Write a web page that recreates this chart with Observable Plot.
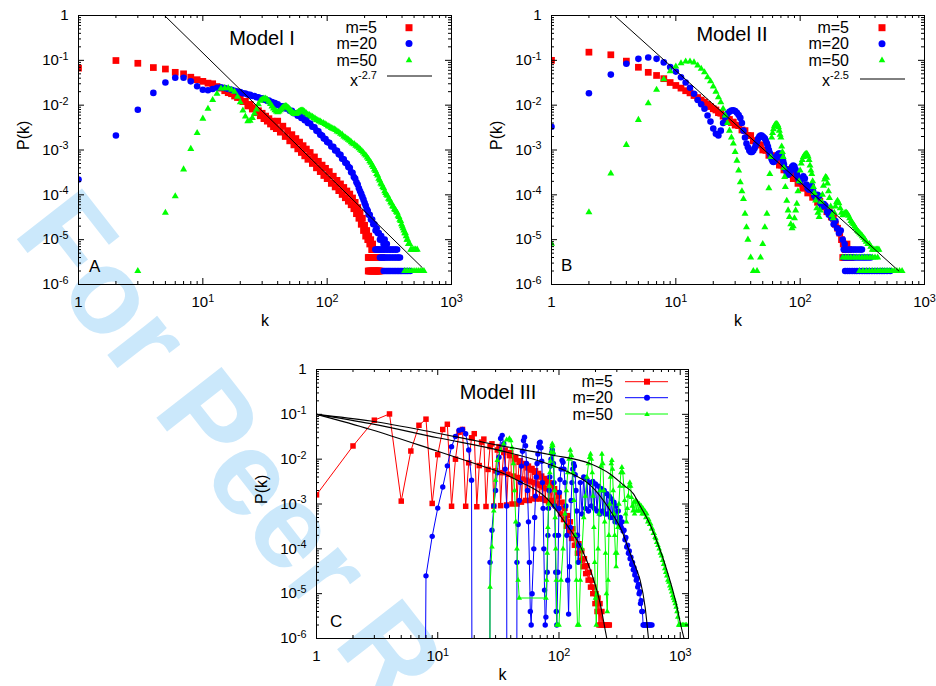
<!DOCTYPE html>
<html><head><meta charset="utf-8">
<script src="https://cdn.jsdelivr.net/npm/d3@7"></script>
<script src="https://cdn.jsdelivr.net/npm/@observablehq/plot@0.6"></script>
<style>
html,body{margin:0;padding:0;background:#fff;}
#wrap{position:relative;width:936px;height:686px;overflow:hidden;font-family:"Liberation Sans",Arial,Helvetica,sans-serif;}
#wrap svg{position:absolute;}
</style></head><body><div id="wrap"></div>
<script>
// ---------------- DATA ----------------
const kDecades = [1, 10, 100, 1000];
const pDecades = [1e-6, 1e-5, 1e-4, 1e-3, 1e-2, 1e-1, 1];
const minorFactors = [2, 3, 4, 5, 6, 7, 8, 9];
const seriesLabels = ["m=5", "m=20", "m=50"];
const panelTitles = ["Model I", "Model II", "Model III"];
const panelLetters = ["A", "B", "C"];
const fitLabels = ["-2.7", "-2.5"];

// Panel A (Model I)
const aRed = [[1,.067],[2,.099],[3,.086],[4,.069],[5,.064],[6,.054],[7,.050],[8,.042],[9,.037],[10,.034],[11,.031],[12,.030],[13,.026],[14,.024],[15,.021],[16,.019],[17,.018],[18,.016],[19,.0148],[20,.015],[21,.012],[22,.0122],[23,.0096],[24,.0104],[25,.0082],[26,.0088],[27,.0068],[28,.0075],[29,.0058],[30,.0066],[31,.0050],[32,.0057],[33,.0044],[34,.0050],[35,.0038],[36,.0044],[37,.0033],[38,.0039],[39,.0030],[40,.0044],[42,.0025],[44,.0034],[46,.0020],[48,.0027],[50,.0016],[52,.0022],[54,.0013],[56,.0018],[58,.00106],[60,.0015],[62,.00088],[64,.00125],[66,.00074],[68,.00105],[70,.00062],[73,.00088],[76,.0005],[79,.0007],[82,.0004],[85,.00056],[88,.00033],[91,.00046],[94,.00027],[97,.00039],[100,.00023],[104,.00033],[108,.00018],[112,.00026],[116,.00015],[120,.00021],[124,.000124],[128,.000175],[132,.000102],[136,.000146],[140,.000086],[144,.000122],[148,.000072],[152,.000104],[156,.00006],[160,.000085],[164,.000049],[168,.000068],[172,.000038],[176,.000052],[180,.00003],[184,.00004],[188,.000022],[192,.00003],[196,.000016],[200,.000021],[204,.000012],[208,.000016],[212,.00001],[216,.000012],[220,.000008],[224,.00001],[228,.000006],[232,.000008],[236,.000006],[240,.000006],[246,.000006],
[214,.000004],[218,.000004],[222,.000004],[226,.000004],[230,.000004],[234,.000004],[238,.000004],[242,.000004],[246,.000004],[250,.000004],[255,.000004],[260,.000004],[265,.000004],[270,.000004],[276,.000004],
[214,.000002],[218,.000002],[222,.000002],[226,.000002],[230,.000002],[234,.000002],[238,.000002],[242,.000002],[246,.000002],[250,.000002],[254,.000002],[258,.000002],[262,.000002],[266,.000002]];
const aBlue = [[1,.00022],[2,.0021],[3,.0079],[4,.0188],[5,.032],[6,.041],[7,.041],[8,.034],[9,.0265],[10,.022],[11,.0215],[12,.023],[13,.0245],[14,.025],[15,.024],[16,.023],[17,.022],[18,.021],[19,.020],[20,.0195],[21,.0185],[22,.0182],[23,.0172],[24,.0170],[25,.0160],[26,.0160],[27,.0150],[28,.0150],[29,.0140],[30,.0142],[31,.0132],[32,.0134],[33,.0124],[34,.0126],[35,.0116],[36,.0118],[37,.0109],[38,.0111],[39,.0102],[40,.0104],[42,.0094],[44,.0094],[46,.0084],[48,.0084],[50,.0075],[52,.0075],[54,.0066],[56,.0066],[58,.0058],[60,.0060],[62,.0052],[64,.0053],[66,.0046],[68,.0047],[70,.0040],[73,.0039],[76,.0033],[79,.0032],[82,.0027],[85,.0026],[88,.0022],[91,.0021],[94,.0018],[97,.00175],[100,.0015],[104,.00145],[108,.00120],[112,.00118],[116,.00098],[120,.00096],[124,.00080],[128,.00078],[132,.00064],[136,.00062],[140,.00052],[144,.00050],[148,.00042],[152,.00040],[156,.00032],[160,.00031],[164,.00025],[168,.00023],[172,.00019],[176,.00017],[180,.00014],[184,.00012],[188,.000105],[192,.000090],[196,.000078],[200,.000066],[204,.000058],[208,.000048],[212,.000044],[216,.000036],[220,.000036],[225,.000028],[230,.000028],[235,.000022],[240,.000022],[245,.000016],[250,.000018],[255,.000014],[260,.000014],[266,.000010],[272,.000012],[278,.000010],[284,.000008],[290,.000010],[296,.000008],[302,.000008],
[244,.000006],[250,.000006],[256,.000006],[262,.000006],[268,.000006],[275,.000006],[282,.000006],[290,.000006],[298,.000006],[306,.000006],[315,.000006],[324,.000006],[334,.000006],[344,.000006],[355,.000006],[365,.000006],
[266,.000004],[272,.000004],[278,.000004],[285,.000004],[292,.000004],[300,.000004],[308,.000004],[316,.000004],[325,.000004],[335,.000004],[345,.000004],[355,.000004],[366,.000004],[376,.000004],[385,.000004],
[285,.000002],[292,.000002],[300,.000002],[308,.000002],[316,.000002],[325,.000002],[335,.000002],[345,.000002],[355,.000002],[366,.000002],[376,.000002],[388,.000002],[400,.000002],[415,.000002],[430,.000002],[446,.000002],[465,.000002]];
const aGreen = [[3,.000002],[5,.00004],[6,.000093],[7,.00037],[8,.00106],[9,.0024],[10,.005],[11,.0083],[12,.013],[13,.018],[14,.0235],[15,.024],[16,.024],[17,.022],[18,.020],[19,.0155],[20,.0116],[21,.0076],[22,.0056],[23,.0044],[24,.0045],[25,.0052],[26,.0065],[27,.0080],[28,.0105],[29,.0125],[30,.0135],[31,.0140],[32,.0140],[33,.0132],[34,.0120],[35,.0106],[36,.0094],[37,.0084],[38,.0077],[39,.0072],[40,.0070],[41,.0072],[42,.0077],[43,.0083],[44,.0089],[45,.0093],[46,.0095],[47,.0094],[48,.0090],[49,.0086],[50,.0080],[51,.0075],[52,.0071],[53,.0067],[54,.0065],[55,.0064],[56,.0064],[57,.0066],[58,.0068],[59,.0071],[60,.0073],[61,.0075],[62,.0076],[63,.0076],[64,.0075],[65,.0073],[66,.0070],[68,.0066],[70,.0062],[72,.0060],[74,.0057],[76,.0055],[78,.0052],[80,.0050],[82,.0047],[84,.0046],[86,.0044],[88,.0043],[90,.0041],[93,.0040],[96,.0038],[99,.0036],[102,.0034],[105,.0033],[108,.0031],[111,.0030],[114,.0029],[117,.0028],[120,.0026],[124,.0025],[128,.0023],[132,.0022],[136,.0020],[140,.0019],[144,.0018],[148,.0017],[152,.0016],[156,.0015],[160,.0014],[165,.00135],[170,.00125],[175,.00118],[180,.0011],[185,.00102],[190,.00095],[195,.00088],[200,.0008],[205,.00075],[210,.00068],[215,.00063],[220,.00056],[225,.00052],[230,.00046],[235,.00042],[240,.00037],[245,.00034],[250,.00029],[255,.00027],[260,.00023],[265,.00021],[270,.00018],[275,.00017],[280,.00015],[285,.00014],[290,.00012],[295,.00011],[300,.0001],[306,.000095],[312,.000082],[318,.000078],[324,.000068],[330,.000064],[336,.000056],[342,.000054],[348,.000048],[354,.000046],[360,.000042],[366,.000040],[372,.000034],[378,.000032],[384,.000028],[390,.000026],[396,.000022],[402,.000020],[408,.000018],[414,.000016],[420,.000014],[426,.000014],[432,.000012],[438,.000010],[444,.000010],[450,.000008],[456,.000008],[462,.000008],[470,.000006],[480,.000006],[490,.000006],[500,.000006],[515,.000006],[530,.000006],
[420,.000002],[440,.000002],[460,.000002],[480,.000002],[500,.000002],[520,.000002],[540,.000002],[560,.000002],[580,.000002],[600,.000002]];
const aFit = [[4.92, 1], [580, 0.0000024]];

// Panel B (Model II)
const bRed = [[1,.10],[2,.152],[3,.133],[4,.096],[5,.070],[6,.054],[7,.046],[8,.039],[9,.032],[10,.0275],[11,.024],[12,.021],[13,.0188],[14,.0164],[15,.0148],[16,.013],[17,.0117],[18,.0104],[19,.0093],[20,.0083],[21,.0078],[22,.0068],[23,.0066],[24,.0057],[25,.0056],[26,.0048],[27,.0048],[28,.0041],[29,.0042],[30,.0036],[32,.0035],[34,.0028],[36,.0027],[38,.0021],[40,.0021],[42,.0016],[44,.0016],[46,.0013],[48,.0013],[50,.00100],[53,.00098],[56,.00076],[59,.00075],[62,.00059],[65,.00058],[68,.00046],[71,.00046],[74,.00036],[77,.00037],[80,.00029],[84,.00029],[88,.00023],[92,.00023],[96,.00018],[100,.00019],[105,.00014],[110,.00015],[115,.00011],[120,.00012],[126,.000088],[132,.000092],[138,.000068],[144,.000072],[150,.000054],[157,.000056],[164,.000042],[171,.000042],[178,.000032],[185,.000030],[192,.000022],[200,.000018],[208,.000014],[215,.000010],[222,.000008],[230,.000006],[238,.000008],[246,.000006],
[220,.000004],[226,.000004],[232,.000004],[238,.000004],[244,.000004],[250,.000004],[256,.000004]];
const bBlue = [[1,.0033],[2,.0185],[3,.048],[4,.084],[5,.108],[6,.116],[7,.108],[8,.090],[9,.071],[10,.056],[11,.042],[12,.032],[13,.0244],[14,.018],[15,.013],[16,.0105],[17,.0083],[18,.0059],[19,.0043],[20,.0030],[21,.0023],[22,.0021],[23,.0027],[24,.0040],[25,.0054],[26,.0064],[27,.0071],[28,.0076],[29,.0077],[30,.0074],[31,.0068],[32,.0060],[33,.0052],[34,.0040],[35,.0027],[36,.0019],[37,.0014],[38,.00115],[39,.00098],[40,.00090],[41,.00090],[42,.00098],[43,.0011],[44,.0013],[45,.0015],[46,.0018],[47,.0020],[48,.0021],[49,.0021],[50,.0020],[51,.0019],[52,.0018],[53,.0016],[54,.0014],[55,.0012],[56,.0010],[57,.00085],[58,.00072],[59,.00062],[60,.00056],[61,.00054],[62,.00056],[63,.00060],[64,.00066],[65,.00072],[66,.00078],[67,.00082],[68,.00083],[69,.00082],[70,.00078],[71,.00072],[72,.00064],[73,.00056],[74,.00048],[76,.00038],[78,.00031],[80,.00028],[82,.00030],[84,.00036],[86,.00042],[88,.00045],[90,.00043],[92,.00036],[94,.00029],[96,.00024],[98,.00021],[100,.00020],[103,.00023],[106,.00026],[109,.00023],[112,.00017],[115,.00014],[118,.00013],[121,.00015],[124,.00016],[127,.00012],[130,.000095],[134,.000085],[138,.00010],[142,.000092],[146,.000065],[150,.000055],[155,.000062],[160,.000056],[165,.000042],[170,.000036],[175,.000040],[180,.000030],[186,.000022],[192,.000026],[198,.000018],[205,.000014],[212,.000016],[220,.000010],[228,.000008],
[224,.000006],[232,.000006],[240,.000006],[250,.000006],[260,.000006],[270,.000006],[280,.000006],[292,.000006],[304,.000006],[314,.000006],
[224,.000004],[232,.000004],[240,.000004],[250,.000004],[260,.000004],[270,.000004],[280,.000004],[292,.000004],[304,.000004],[316,.000004],[328,.000004],[340,.000004],[354,.000004],[369,.000004],
[230,.000002],[240,.000002],[250,.000002],[262,.000002],[274,.000002],[286,.000002],[300,.000002],[315,.000002],[330,.000002],[345,.000002],[360,.000002],[378,.000002],[396,.000002],[415,.000002],[435,.000002],[455,.000002],[475,.000002],[500,.000002],[530,.000002]];
const bGreen = [[1,.0000081],[2,.000041],[3,.0003],[4,.0013],[5,.0047],[6,.011],[7,.022],[8,.038],[9,.057],[10,.073],[11,.086],[12,.094],[13,.094],[14,.090],[15,.077],[16,.065],[17,.054],[18,.042],[19,.034],[20,.026],[21,.020],[22,.015],[23,.0116],[24,.0083],[25,.0059],[26,.0040],[27,.0027],[28,.0019],[29,.0014],[30,.0009],[31,.00058],[32,.00035],[33,.00019],[34,.00012],[35,.000081],[36,.000038],[37,.000019],[38,.00001],[40,.000004],[42,.000002],[45,.000002],[48,.000004],[50,.000008],[52,.000019],[54,.000038],[56,.00014],[57,.00029],[58,.0007],[59,.0019],[60,.0024],[61,.0029],[62,.0034],[63,.0037],[64,.0038],[65,.0038],[66,.0036],[67,.0032],[68,.0027],[69,.0022],[70,.0019],[71,.0012],[72,.0009],[73,.0007],[74,.0004],[75,.00025],[76,.00015],[78,.000074],[80,.000045],[82,.000032],[84,.000022],[86,.000018],[88,.00002],[90,.00003],[92,.000045],[94,.000063],[96,.00012],[98,.0002],[100,.00035],[102,.0005],[104,.0006],[106,.0007],[108,.00076],[110,.0008],[112,.00082],[114,.0008],[116,.00072],[118,.0006],[120,.00045],[122,.00035],[124,.00029],[126,.0002],[128,.00015],[130,.00011],[133,.000075],[136,.00005],[139,.00004],[142,.000032],[145,.000045],[148,.00007],[151,.0001],[154,.00016],[157,.00022],[160,.00025],[163,.00024],[166,.00018],[169,.00012],[172,.000085],[176,.000055],[180,.000035],[184,.00003],[188,.00004],[192,.000055],[196,.000068],[200,.000074],[205,.000065],[210,.00005],[215,.00004],[220,.000035],[225,.000038],[230,.00004],[235,.00004],[240,.000038],[245,.000034],[250,.00003],[256,.000026],[262,.000024],[268,.000022],[274,.00002],[280,.000018],[287,.000016],[294,.000015],[301,.000014],[308,.000013],[316,.000012],[324,.000011],[332,.00001],[340,.000009],[350,.000008],[360,.000008],[370,.000007],[380,.000006],[390,.000006],[400,.000006],[410,.000006],[420,.000006],[430,.000006],
[220,.000004],[232,.000004],[244,.000004],[256,.000004],[270,.000004],[284,.000004],[298,.000004],[314,.000004],[330,.000004],[346,.000004],[364,.000004],[382,.000004],[400,.000004],[420,.000004],
[300,.000002],[320,.000002],[340,.000002],[360,.000002],[380,.000002],[400,.000002],[420,.000002],[440,.000002],[460,.000002],[480,.000002],[500,.000002],[520,.000002],[545,.000002],[570,.000002],[600,.000002],[630,.000002],[660,.000002]];
const bFit = [[3.21, 1], [622, 0.000002]];

// Panel C (Model III); 1e-30 stands for a zero count (line drops out of the frame)
const cRed = [[1,.0016],[2,.0197],[3,.074],[4,.102],[5,.00116],[6,.0152],[7,.057],[8,.078],[9,.00103],[10,.0126],[11,.046],[12,.060],[13,.00089],[14,.010],[15,.040],[16,.046],[17,.00089],[18,.0083],[19,.030],[20,.037],[21,.00087],[22,.0072],[23,.024],[24,.028],[25,.00088],[26,.0059],[27,.019],[28,.022],[29,.0009],[30,.0055],[31,.016],[32,.019],[33,.00092],[34,.0050],[35,.014],[36,.016],[37,.00095],[38,.0046],[39,.012],[40,.014],[41,.0010],[42,.0042],[43,.010],[44,.011],[45,.0010],[46,.0039],[47,.0085],[48,.0092],[49,.0011],[50,.0036],[51,.0074],[52,.0080],[53,.0012],[54,.0034],[55,.0064],[56,.0070],[57,.0012],[58,.0032],[59,.0057],[60,.0062],[61,.0013],[62,.0030],[63,.0051],[64,.0055],[65,.0013],[66,.0028],[67,.0045],[68,.0048],[69,.0013],[70,.0026],[71,.0040],[72,.0042],[73,.0013],[74,.0024],[75,.0035],[76,.0037],[77,.0012],[78,.0022],[79,.0031],[80,.0033],[82,.0011],[84,.0030],[86,.0012],[88,.0026],[90,.0010],[92,.0022],[94,.0009],[96,.0018],[98,.0008],[100,.0015],[103,.0006],[106,.0011],[109,.00045],[112,.0008],[115,.00032],[118,.00055],[121,.00024],[124,.0004],[127,.00017],[130,.00028],[134,.00012],[138,.0002],[142,.00008],[146,.00013],[150,.000055],[154,.00009],[158,.00004],[162,.00006],[166,.000028],[170,.000042],[174,.00002],[178,.00003],[182,.000014],[186,.00002],[190,.00001],[194,.000014],[198,.000006],[202,.00001],[206,.000004],[210,.000008],[214,.000002],[218,.000006],[222,.000002],[226,.000004],[230,.000002],[236,.000002],[242,.000002],[248,.000002],[254,.000002],[260,.000002]];
const cBlue = [[7,1e-30],[8,.000025],[9,.00019],[10,.00081],[11,.0024],[12,.0071],[13,.019],[14,.032],[15,.044],[16,.046],[17,.037],[18,.016],[19,.0034],[20,1e-30],
[26,1e-30],[27,.00005],[28,.00026],[29,.0009],[30,.002],[31,.005],[32,.011],[33,.029],[34,.034],[35,.022],[36,.006],[37,.0009],[38,1e-30],
[44,1e-30],[45,.00005],[46,.00035],[47,.0012],[48,.003],[49,.007],[50,.015],[51,.026],[52,.031],[53,.02],[54,.008],[55,.002],[56,.0004],[57,.00005],[58,.000004],[59,.000002],[60,.00001],
[62,.0001],[63,.0005],[64,.0015],[65,.004],[66,.008],[67,.013],[68,.019],[69,.023],[70,.024],[71,.018],[72,.009],[73,.003],[74,.0008],[75,.0001],[76,.000012],[77,.000002],[78,.000003],
[80,.00003],[81,.0002],[82,.0008],[83,.002],[84,.004],[85,.007],[86,.01],[87,.014],[88,.016],[89,.013],[90,.008],[91,.003],[92,.0009],[93,.0002],[94,.00003],[95,.000004],[96,.000002],
[98,.00003],[99,.0002],[100,.0008],[101,.0018],[102,.0035],[104,.006],[106,.0094],[108,.0085],[110,.006],[112,.003],[114,.0009],[116,.0002],[118,.00002],[120,.0000035],
[122,.00004],[124,.0003],[126,.0012],[128,.003],[130,.006],[132,.0079],[134,.007],[136,.0045],[138,.002],[140,.0007],[142,.0002],[144,.00005],[146,.00012],
[150,.003],[155,.0006],[160,.004],[165,.0008],[170,.0035],[175,.0007],[180,.003],[185,.0009],[190,.0032],[195,.0008],[200,.0028],[206,.0007],[212,.0025],[218,.0006],[224,.0022],[230,.0007],[236,.002],[242,.0006],[248,.0017],[254,.0006],[260,.0015],[266,.0005],[272,.0013],[278,.0005],[284,.0011],[290,.0004],[296,.0009],[302,.0004],[308,.0007],[314,.00035],[320,.0005],[326,.0003],[332,.0004],[338,.00025],[344,.00026],[350,.00016],[356,.00018],[362,.00011],[368,.00012],[374,.00008],[380,.00009],[386,.00006],[392,.000065],[398,.000045],[404,.00005],[410,.000034],[416,.000038],[422,.000026],[428,.00003],[434,.00002],[440,.000022],[446,.000014],[452,.000016],[458,.00001],[464,.000011],[470,.000006],[476,.000007],[482,.000004],[488,.000004],[494,.000002],[500,.000002],[510,.000002],[520,.000002],[530,.000002],[540,.000002],[550,.000002],[560,.000002],[570,.000002],[585,.000002]];
const cGreen = [[26,1e-30],[27,.000014],[28,.00011],[29,.0007],[30,.0034],[31,.0094],[33,.016],[35,.022],[37,.027],[39,.029],[40,.026],[41,.018],[42,.008],[43,.002],[44,.0004],[45,.0001],[46,.00002],[47,.000008],[78,.000008],
[79,.00002],[80,.00008],[81,.0003],[82,.001],[83,.0025],[84,.005],[85,.009],[86,.014],[87,.019],[88,.022],[89,.02],[90,.014],[91,.007],[92,.002],[93,.0005],[94,.0001],[95,.00002],[96,.000002],
[100,.000002],[104,.00002],[108,.0001],[112,.0006],[115,.002],[118,.005],[121,.01],[124,.016],[127,.012],[130,.005],[133,.0012],[136,.0002],[139,.00002],[142,.000002],
[146,.000002],[150,.00002],[155,.0001],[160,.0005],[165,.0015],[170,.004],[175,.008],[179,.011],[182,.013],[185,.01],[188,.005],[191,.0015],[194,.0003],[197,.00005],[200,.000008],[203,.000002],
[206,.00001],[210,.0001],[214,.0006],[218,.002],[222,.007],[226,.013],[230,.008],[234,.002],[238,.0004],[242,.00008],[246,.00001],[250,.000004],
[254,.00002],[258,.0002],[262,.001],[266,.004],[270,.008],[273,.0094],[276,.006],[280,.002],[284,.0006],[288,.0002],[292,.00008],[296,.00004],
[300,.00008],[306,.0003],[312,.001],[318,.0025],[324,.005],[330,.0066],[336,.005],[342,.0025],[348,.0012],[354,.0006],[360,.0004],
[366,.0008],[372,.0015],[378,.0025],[384,.003],[390,.0025],[396,.0014],[402,.0009],[408,.0007],
[414,.0011],[420,.0006],[428,.0012],[436,.0007],[444,.0011],[452,.0007],[460,.0010],[468,.0007],[476,.0009],[484,.0006],[492,.0008],[500,.0006],[510,.0007],[520,.0005],[530,.0006],[540,.0004],[550,.00045],[560,.00035],[570,.00036],[580,.00028],[590,.00028],[600,.00022],[610,.00022],[620,.00018],[630,.00017],[640,.00014],[655,.00012],[670,.0001],[685,.00008],[700,.00007],[715,.000055],[730,.000045],[745,.000036],[760,.00003],[775,.000025],[790,.00002],[805,.000018],[820,.000015],[835,.000013],[850,.000011],[865,.000009],[880,.000008],[895,.000007],[910,.000006],[925,.000005],[940,.000004],[955,.000003],[970,.000002],[990,.000002],[1010,.000002],[1040,.000002],[1070,.000002],[1100,.000002],[1130,.000002]];
const cFit5 = [[1,.1],[2.8,.046],[10,.015],[22.6,.0072],[33,.0051],[48.3,.0031],[80,.0013],[109,.00043],[151,.00011],[182,.000033],[219,.0000059],[241,.0000015],[248,.000001]];
const cFit20 = [[1,.1],[2.8,.062],[10,.03],[33,.0155],[85,.0075],[130,.0046],[182,.0026],[265,.00071],[330,.00025],[388,.000077],[430,.000038],[467,.00002],[514,.0000049],[547,.000001]];
const cFit50 = [[1,.1],[2.8,.071],[10,.038],[33,.020],[85,.0125],[182,.0079],[260,.0048],[343,.0026],[410,.0017],[467,.0009],[550,.0004],[640,.00015],[710,.00007],[779,.000032],[860,.000013],[943,.0000049],[1010,.000002],[1075,.000001]];

// ---------------- DRAWING ----------------
const FONT = '"Liberation Sans", Arial, Helvetica, sans-serif';
const RED = "#ff0000", BLUE = "#0000ff", GREEN = "#00ff00";
const fmt = v => { const e = Math.round(Math.log10(v)); return e === 0 ? "1" : "10^" + e; };
const X = d => d[0], Y = d => d[1];
const wrap = d3.select("#wrap");

// background watermark
const bg = wrap.append("svg").attr("width", 936).attr("height", 686).style("left", "0px").style("top", "0px");
bg.append("text").attr("transform", "translate(12,233) rotate(52)")
  .attr("font-family", FONT).attr("font-weight", "bold").attr("font-size", 120)
  .attr("fill", "#cbe8fb").text("For Peer R");

function panel(cfg) {
  const fw = cfg.width - cfg.ml - cfg.mr, fh = cfg.height - cfg.mt - cfg.mb;
  const xMaj = kDecades.filter(v => v <= cfg.xmax);
  const xMin = kDecades.flatMap(d => minorFactors.map(f => d * f)).filter(v => v < cfg.xmax);
  const yMin = pDecades.slice(0, -1).flatMap(d => minorFactors.map(f => d * f));
  const svg = Plot.plot({
    width: cfg.width, height: cfg.height,
    marginLeft: cfg.ml, marginRight: cfg.mr, marginTop: cfg.mt, marginBottom: cfg.mb,
    x: {type: "log", domain: [1, cfg.xmax]},
    y: {type: "log", domain: [1e-6, 1]},
    style: {background: "transparent", fontFamily: FONT, fontSize: "15px", color: "#000", overflow: "visible"},
    marks: [
      ...cfg.marks,
      Plot.frame({stroke: "#000", strokeWidth: 1}),
      Plot.tickX(xMaj, {x: d => d, insetTop: fh - 6, stroke: "#000"}),
      Plot.tickX(xMaj, {x: d => d, insetBottom: fh - 6, stroke: "#000"}),
      Plot.tickX(xMin, {x: d => d, insetTop: fh - 3, stroke: "#000"}),
      Plot.tickX(xMin, {x: d => d, insetBottom: fh - 3, stroke: "#000"}),
      Plot.tickY(pDecades, {y: d => d, insetRight: fw - 6, stroke: "#000"}),
      Plot.tickY(pDecades, {y: d => d, insetLeft: fw - 6, stroke: "#000"}),
      Plot.tickY(yMin, {y: d => d, insetRight: fw - 3, stroke: "#000"}),
      Plot.tickY(yMin, {y: d => d, insetLeft: fw - 3, stroke: "#000"}),
      Plot.axisX({ticks: xMaj, tickSize: 0, tickPadding: 12, tickFormat: fmt, label: null}),
      Plot.axisY({ticks: pDecades, tickSize: 0, tickPadding: 10, tickFormat: fmt, label: null}),
      Plot.text(["k"], {text: d => d, frameAnchor: "bottom", dy: 41, fontSize: 16}),
      Plot.text(["P(k)"], {text: d => d, frameAnchor: "left", dx: -55, rotate: -90, fontSize: 16})
    ]
  });
  d3.select(svg).selectAll("text").each(function () {
    const m = /^10\^(-?\d+)$/.exec(this.textContent);
    if (!m) return;
    this.textContent = "";
    const s = d3.select(this);
    s.append("tspan").text("10");
    s.append("tspan").attr("dy", "-0.5em").attr("font-size", "0.72em").text(m[1]);
  });
  d3.select(svg).style("position", "absolute").style("left", cfg.left + "px").style("top", cfg.top + "px");
  wrap.node().appendChild(svg);
}

const dots = (data, sym, r, fill) => Plot.dot(data.filter(d => d[1] > 1e-20), {x: X, y: Y, symbol: sym, r, fill, stroke: null, clip: true});

panel({left: 0, top: 0, width: 468, height: 340, ml: 78, mr: 17, mt: 15, mb: 56, xmax: 1000, marks: [
  dots(aRed, "square", 3.8, RED), dots(aBlue, "circle", 3.3, BLUE), dots(aGreen, "triangle", 2.6, GREEN),
  Plot.line(aFit, {x: X, y: Y, stroke: "#000", strokeWidth: 1, clip: true})
]});
panel({left: 470, top: 0, width: 466, height: 340, ml: 81, mr: 12, mt: 15, mb: 56, xmax: 1000, marks: [
  dots(bRed, "square", 3.8, RED), dots(bBlue, "circle", 3.3, BLUE), dots(bGreen, "triangle", 2.6, GREEN),
  Plot.line(bFit, {x: X, y: Y, stroke: "#000", strokeWidth: 1, clip: true})
]});
panel({left: 240, top: 340, width: 470, height: 346, ml: 76, mr: 22, mt: 29, mb: 48, xmax: 1170, marks: [
  Plot.line(cRed, {x: X, y: Y, stroke: RED, strokeWidth: 1, clip: true}), dots(cRed, "square", 3.1, RED),
  Plot.line(cBlue, {x: X, y: Y, stroke: BLUE, strokeWidth: 1, clip: true}), dots(cBlue, "circle", 2.7, BLUE),
  Plot.line(cGreen, {x: X, y: Y, stroke: GREEN, strokeWidth: 1, clip: true}), dots(cGreen, "triangle", 2.1, GREEN),
  Plot.line(cFit5, {x: X, y: Y, stroke: "#000", strokeWidth: 1.1, curve: "monotone-x", clip: true}),
  Plot.line(cFit20, {x: X, y: Y, stroke: "#000", strokeWidth: 1.1, curve: "monotone-x", clip: true}),
  Plot.line(cFit50, {x: X, y: Y, stroke: "#000", strokeWidth: 1.1, curve: "monotone-x", clip: true})
]});

// annotations: titles, panel letters, legends
const ov = wrap.append("svg").attr("width", 936).attr("height", 686).style("left", "0px").style("top", "0px")
  .attr("font-family", FONT);
function sym(g, type, x, y, s, fill) {
  if (type === "square") g.append("rect").attr("x", x - s / 2).attr("y", y - s / 2).attr("width", s).attr("height", s).attr("fill", fill);
  else if (type === "circle") g.append("circle").attr("cx", x).attr("cy", y).attr("r", s / 2).attr("fill", fill);
  else { const h = s * 0.87; g.append("path").attr("d", `M${x},${y - h * 0.6}L${x + s / 2},${y + h * 0.4}L${x - s / 2},${y + h * 0.4}Z`).attr("fill", fill); }
}
const symbols = ["square", "circle", "triangle"], colors = [RED, BLUE, GREEN];
function legendScatter(textX, markX, rows, fitY, lineX1, lineX2, fitLabel, fitBase) {
  rows.forEach((y, i) => {
    ov.append("text").attr("x", textX).attr("y", y + 5.5).attr("text-anchor", "end").attr("font-size", 16).text(seriesLabels[i]);
    sym(ov, symbols[i], markX, y, i === 2 ? 6.5 : 7, colors[i]);
  });
  const t = ov.append("text").attr("x", textX).attr("y", fitBase).attr("text-anchor", "end").attr("font-size", 16);
  t.append("tspan").text("x");
  t.append("tspan").attr("dy", -7).attr("font-size", 11).text(fitLabel);
  ov.append("line").attr("x1", lineX1).attr("x2", lineX2).attr("y1", fitY).attr("y2", fitY).attr("stroke", "#000").attr("stroke-width", 1);
}
ov.append("text").attr("x", 262).attr("y", 45).attr("text-anchor", "middle").attr("font-size", 20).text(panelTitles[0]);
ov.append("text").attr("x", 732).attr("y", 40.5).attr("text-anchor", "middle").attr("font-size", 20).text(panelTitles[1]);
ov.append("text").attr("x", 498).attr("y", 399).attr("text-anchor", "middle").attr("font-size", 20).text(panelTitles[2]);
ov.append("text").attr("x", 89).attr("y", 272).attr("font-size", 17).text(panelLetters[0]);
ov.append("text").attr("x", 561).attr("y", 271).attr("font-size", 17).text(panelLetters[1]);
ov.append("text").attr("x", 330).attr("y", 627).attr("font-size", 17).text(panelLetters[2]);
legendScatter(377, 409, [27.7, 43.5, 60], 76, 387, 432, fitLabels[0], 86);
legendScatter(849, 882, [27.7, 43.7, 60], 79, 860, 905, fitLabels[1], 86);
[381.7, 397.7, 414].forEach((y, i) => {
  ov.append("text").attr("x", 613).attr("y", y + 5.5).attr("text-anchor", "end").attr("font-size", 16).text(seriesLabels[i]);
  ov.append("line").attr("x1", 625).attr("x2", 668).attr("y1", y).attr("y2", y).attr("stroke", colors[i]).attr("stroke-width", 1);
  sym(ov, symbols[i], 647, y, i === 2 ? 5.5 : 6, colors[i]);
});
</script></body></html>
